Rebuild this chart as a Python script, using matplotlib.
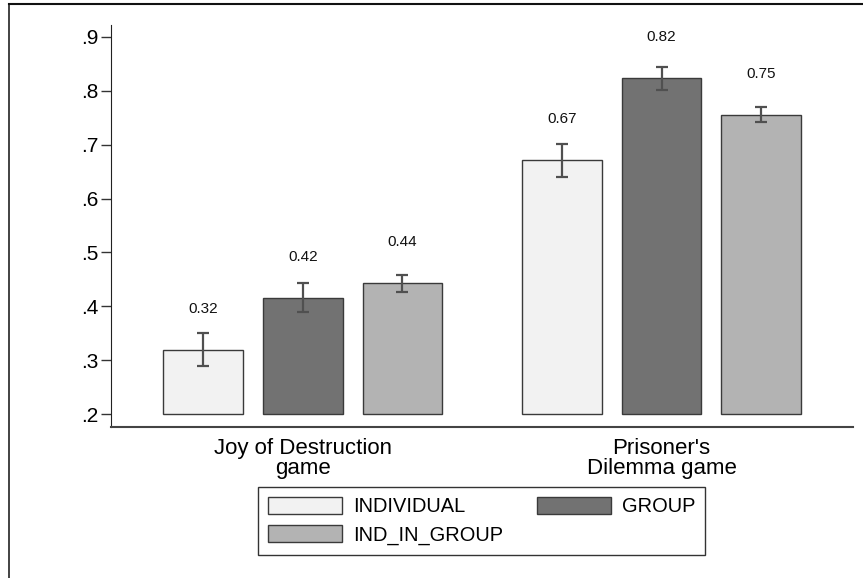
import matplotlib
matplotlib.use("Agg")
import matplotlib.pyplot as plt
from matplotlib.lines import Line2D
import numpy as np

plt.rcParams['font.family'] = ['Liberation Sans', 'DejaVu Sans']

categories = ["Joy of Destruction\ngame", "Prisoner's\nDilemma game"]
series = ["INDIVIDUAL", "GROUP", "IND_IN_GROUP"]
means = {
    "INDIVIDUAL":   [0.320, 0.671],
    "GROUP":        [0.416, 0.823],
    "IND_IN_GROUP": [0.443, 0.755],
}
ci = {
    "INDIVIDUAL":   [0.031, 0.031],
    "GROUP":        [0.027, 0.021],
    "IND_IN_GROUP": [0.016, 0.014],
}
value_labels = {
    "INDIVIDUAL":   ["0.32", "0.67"],
    "GROUP":        ["0.42", "0.82"],
    "IND_IN_GROUP": ["0.44", "0.75"],
}
colors = {"INDIVIDUAL": "#f2f2f2", "GROUP": "#727272", "IND_IN_GROUP": "#b3b3b3"}
yticks = [0.2, 0.3, 0.4, 0.5, 0.6, 0.7, 0.8, 0.9]
ytick_labels = [".2", ".3", ".4", ".5", ".6", ".7", ".8", ".9"]

W, H = 863, 578
fig = plt.figure(figsize=(W / 100, H / 100), dpi=100)
ax = fig.add_axes([110.7 / W, 1 - 427 / H, (852.7 - 110.7) / W, (427 - 25) / H])

base = 0.2
group_starts = [0.0, 3.6]
handles = {}
for i, s in enumerate(series):
    xs = [g + i for g in group_starts]
    heights = [m - base for m in means[s]]
    b = ax.bar(xs, heights, bottom=base, width=0.8, color=colors[s],
               edgecolor="#3a3a3a", linewidth=1.0, label=s, zorder=2)
    handles[s] = b
    ax.errorbar(xs, means[s], yerr=ci[s], fmt="none", ecolor="#505050",
                elinewidth=1.6, capsize=4, capthick=1.6, zorder=3)
    for x, m, lab in zip(xs, means[s], value_labels[s]):
        ax.text(x, m + 0.076, lab, ha="center", va="center", fontsize=11, color="#111111")

ax.set_xlim(-0.926, 6.517)
ax.set_ylim(0.1765, 0.9217)
ax.set_yticks(yticks)
ax.set_yticklabels(ytick_labels, fontsize=15)
ax.set_xticks([g + 1 for g in group_starts])
ax.set_xticklabels(categories, fontsize=16, linespacing=0.95)
ax.tick_params(axis="x", length=0, pad=8)
ax.tick_params(axis="y", length=7, width=1, color="#333333", pad=2)

for side in ["top", "right"]:
    ax.spines[side].set_visible(False)
ax.spines["left"].set_color("#222222")
ax.spines["bottom"].set_color("#444444")
ax.spines["bottom"].set_linewidth(1.5)

order = ["INDIVIDUAL", "IND_IN_GROUP", "GROUP"]
leg = fig.legend([handles[s] for s in order], order, loc="upper center",
                 bbox_to_anchor=(481.7 / W, 1 - 487 / H), ncol=2, fontsize=14.4,
                 frameon=True, fancybox=False, edgecolor="black",
                 handlelength=3.7, handleheight=0.95, handletextpad=0.55,
                 labelspacing=0.42, columnspacing=1.7, borderpad=0.5,
                 borderaxespad=0)
leg.get_frame().set_linewidth(1.0)

# outer frame lines (top and left)
fig.add_artist(Line2D([8.5 / W, 8.5 / W], [0, 1 - 4 / H], transform=fig.transFigure,
                      color="#222222", linewidth=1.2))
fig.add_artist(Line2D([8.5 / W, 1], [1 - 4 / H, 1 - 4 / H], transform=fig.transFigure,
                      color="#111111", linewidth=1.5))

fig.savefig("out.png", dpi=100)
